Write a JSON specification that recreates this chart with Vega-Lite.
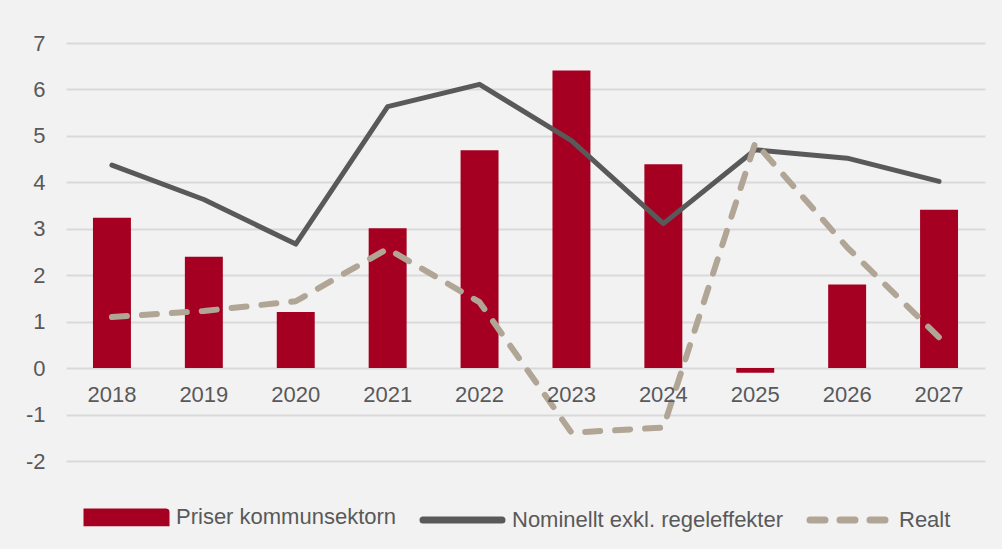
{
  "$schema": "https://vega.github.io/schema/vega-lite/v6.json",
  "width": 919,
  "height": 418,
  "autosize": {"type": "none"},
  "padding": {"left": 66, "top": 43, "right": 17, "bottom": 88},
  "background": "#f2f2f2",
  "config": {
    "view": {"stroke": null},
    "font": "Liberation Sans",
    "axis": {"labelFont": "Liberation Sans", "labelColor": "#595959", "labelFontSize": 22},
    "legend": {"labelFont": "Liberation Sans"}
  },
  "data": {
    "values": [
      {"year": "2018", "serie": "Priser kommunsektorn", "value": 3.24},
      {"year": "2019", "serie": "Priser kommunsektorn", "value": 2.4},
      {"year": "2020", "serie": "Priser kommunsektorn", "value": 1.21},
      {"year": "2021", "serie": "Priser kommunsektorn", "value": 3.01},
      {"year": "2022", "serie": "Priser kommunsektorn", "value": 4.69},
      {"year": "2023", "serie": "Priser kommunsektorn", "value": 6.41},
      {"year": "2024", "serie": "Priser kommunsektorn", "value": 4.39},
      {"year": "2025", "serie": "Priser kommunsektorn", "value": -0.1},
      {"year": "2026", "serie": "Priser kommunsektorn", "value": 1.8},
      {"year": "2027", "serie": "Priser kommunsektorn", "value": 3.41},
      {"year": "2018", "serie": "Nominellt exkl. regeleffekter", "value": 4.37},
      {"year": "2019", "serie": "Nominellt exkl. regeleffekter", "value": 3.63},
      {"year": "2020", "serie": "Nominellt exkl. regeleffekter", "value": 2.67},
      {"year": "2021", "serie": "Nominellt exkl. regeleffekter", "value": 5.63},
      {"year": "2022", "serie": "Nominellt exkl. regeleffekter", "value": 6.11},
      {"year": "2023", "serie": "Nominellt exkl. regeleffekter", "value": 4.9},
      {"year": "2024", "serie": "Nominellt exkl. regeleffekter", "value": 3.11},
      {"year": "2025", "serie": "Nominellt exkl. regeleffekter", "value": 4.7},
      {"year": "2026", "serie": "Nominellt exkl. regeleffekter", "value": 4.52},
      {"year": "2027", "serie": "Nominellt exkl. regeleffekter", "value": 4.02},
      {"year": "2018", "serie": "Realt", "value": 1.1},
      {"year": "2019", "serie": "Realt", "value": 1.23},
      {"year": "2020", "serie": "Realt", "value": 1.44},
      {"year": "2021", "serie": "Realt", "value": 2.57},
      {"year": "2022", "serie": "Realt", "value": 1.42},
      {"year": "2023", "serie": "Realt", "value": -1.39},
      {"year": "2024", "serie": "Realt", "value": -1.28},
      {"year": "2025", "serie": "Realt", "value": 4.85},
      {"year": "2026", "serie": "Realt", "value": 2.6},
      {"year": "2027", "serie": "Realt", "value": 0.66}
    ]
  },
  "encoding": {
    "x": {
      "field": "year",
      "type": "ordinal",
      "scale": {"paddingInner": 0.587, "paddingOuter": 0.2935},
      "axis": {
        "title": null,
        "labelAngle": 0,
        "domain": false,
        "ticks": false,
        "grid": false,
        "offset": -93,
        "labelBaseline": "alphabetic",
        "labelPadding": 33,
        "zindex": 1
      }
    },
    "y": {
      "field": "value",
      "type": "quantitative",
      "scale": {"domain": [-2, 7], "nice": false, "zero": false},
      "axis": {
        "title": null,
        "values": [-2, -1, 0, 1, 2, 3, 4, 5, 6, 7],
        "labelExpr": "'' + datum.value",
        "domain": false,
        "ticks": false,
        "grid": true,
        "gridColor": "#d9d9d9",
        "gridWidth": 2,
        "labelPadding": 21,
        "labelBaseline": "middle",
        "zindex": 0
      }
    },
    "color": {
      "field": "serie",
      "type": "nominal",
      "scale": {
        "domain": ["Priser kommunsektorn", "Nominellt exkl. regeleffekter", "Realt"],
        "range": ["#a50021", "#595959", "#b1a595"]
      },
      "legend": {
        "title": null,
        "orient": "none",
        "legendX": 21,
        "legendY": 463,
        "direction": "horizontal",
        "symbolSize": 6241,
        "labelFontSize": 22,
        "labelColor": "#595959",
        "labelLimit": 600,
        "labelOffset": 10,
        "columnPadding": 12,
        "encode": {
          "symbols": {
            "update": {
              "x": {"value": 39.5},
              "shape": {"signal": "datum.value === 'Priser kommunsektorn' ? 'M-1,-0.135H1V0.135H-1Z' : 'stroke'"},
              "fill": {"signal": "datum.value === 'Priser kommunsektorn' ? '#a50021' : 'transparent'"},
              "stroke": {"signal": "datum.value === 'Priser kommunsektorn' ? 'transparent' : (datum.value === 'Realt' ? '#b1a595' : '#595959')"},
              "strokeWidth": {"signal": "datum.value === 'Realt' ? 7 : 7"},
              "strokeDash": {"signal": "datum.value === 'Realt' ? [15, 15] : [1, 0]"},
              "strokeCap": {"value": "round"},
              "opacity": {"value": 1}
            }
          },
          "labels": {
            "update": {
              "x": {"value": 89}
            }
          }
        }
      }
    }
  },
  "layer": [
    {
      "transform": [{"filter": "datum.serie === 'Priser kommunsektorn'"}],
      "mark": {"type": "bar"}
    },
    {
      "transform": [{"filter": "datum.serie === 'Nominellt exkl. regeleffekter'"}],
      "mark": {"type": "line", "strokeWidth": 5, "strokeCap": "round", "strokeJoin": "round"}
    },
    {
      "transform": [{"filter": "datum.serie === 'Realt'"}],
      "mark": {"type": "line", "strokeWidth": 6, "strokeCap": "round", "strokeJoin": "round", "strokeDash": [15, 15]}
    }
  ]
}
